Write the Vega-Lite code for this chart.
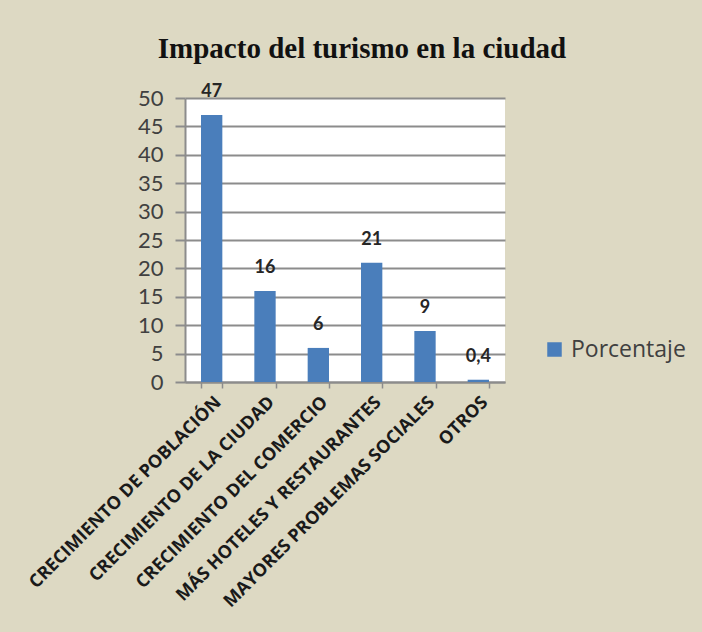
{
  "$schema": "https://vega.github.io/schema/vega-lite/v6.json",
  "autosize": {"type": "none"},
  "width": 320,
  "height": 284,
  "padding": {"left": 185, "top": 98, "right": 197, "bottom": 250},
  "background": "#ddd9c3",
  "title": {
    "text": "Impacto del turismo en la ciudad",
    "font": "Liberation Serif",
    "fontSize": 29,
    "fontWeight": "bold",
    "color": "#111111",
    "anchor": "middle",
    "dx": 17,
    "offset": 19
  },
  "data": {
    "values": [
      {"categoria": "CRECIMIENTO DE POBLACIÓN", "valor": 47, "etiqueta": "47", "serie": "Porcentaje"},
      {"categoria": "CRECIMIENTO DE LA CIUDAD", "valor": 16, "etiqueta": "16", "serie": "Porcentaje"},
      {"categoria": "CRECIMIENTO DEL COMERCIO", "valor": 6, "etiqueta": "6", "serie": "Porcentaje"},
      {"categoria": "MÁS HOTELES Y RESTAURANTES", "valor": 21, "etiqueta": "21", "serie": "Porcentaje"},
      {"categoria": "MAYORES PROBLEMAS SOCIALES", "valor": 9, "etiqueta": "9", "serie": "Porcentaje"},
      {"categoria": "OTROS", "valor": 0.4, "etiqueta": "0,4", "serie": "Porcentaje"}
    ]
  },
  "encoding": {
    "x": {
      "field": "categoria",
      "type": "nominal",
      "sort": null,
      "scale": {"paddingInner": 0.6, "paddingOuter": 0.3},
      "axis": {
        "title": null,
        "labelAngle": -45,
        "labelFont": "Open Sans",
        "labelFontSize": 18,
        "labelFontWeight": "bold",
        "labelColor": "#1a1a1a",
        "labelPadding": 5,
        "labelLimit": 400,
        "domainColor": "#8c8c8c",
        "domainWidth": 2,
        "tickColor": "#8c8c8c",
        "tickWidth": 1.5,
        "tickSize": 6,
        "tickBand": "extent"
      }
    },
    "y": {
      "field": "valor",
      "type": "quantitative",
      "scale": {"domain": [0, 50]},
      "axis": {
        "title": null,
        "values": [0, 5, 10, 15, 20, 25, 30, 35, 40, 45, 50],
        "labelFont": "Lato",
        "labelFontSize": 22,
        "labelColor": "#404040",
        "labelPadding": 12,
        "domainColor": "#8c8c8c",
        "domainWidth": 2,
        "tickColor": "#8c8c8c",
        "tickWidth": 2,
        "tickSize": 10,
        "gridColor": "#8c8c8c",
        "gridWidth": 2,
        "gridOpacity": 1
      }
    }
  },
  "layer": [
    {
      "mark": {"type": "bar", "color": "#4a7ebb"},
      "encoding": {
        "color": {
          "field": "serie",
          "type": "nominal",
          "scale": {"range": ["#4a7ebb"]},
          "legend": {
            "title": null,
            "orient": "none",
            "legendX": 358,
            "legendY": 240,
            "symbolType": "square",
            "symbolSize": 210,
            "symbolStrokeWidth": 0,
            "labelFont": "Open Sans",
            "labelFontSize": 23,
            "labelColor": "#404040",
            "labelOffset": 5
          }
        }
      }
    },
    {
      "mark": {
        "type": "text",
        "baseline": "bottom",
        "dy": -14,
        "font": "Lato",
        "fontSize": 18,
        "fontWeight": "bold",
        "color": "#262626"
      },
      "encoding": {"text": {"field": "etiqueta", "type": "nominal"}}
    }
  ],
  "config": {
    "view": {"fill": "#ffffff", "stroke": null}
  }
}
